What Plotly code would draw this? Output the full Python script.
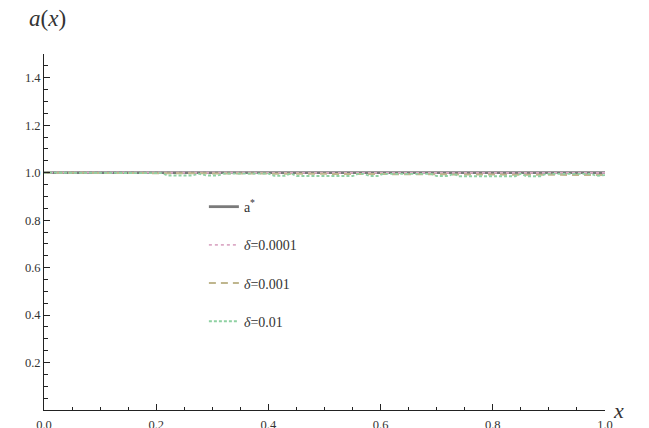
import plotly.graph_objects as go

# ---- data ----
x_star = [0.0, 0.2, 0.4, 0.6, 0.8, 1.0]
a_star = [1.0, 1.0, 1.0, 1.0, 1.0, 1.0]

x_d4 = [0.0, 0.2, 0.4, 0.6, 0.8, 1.0]
a_d4 = [1.0, 0.9998, 0.9995, 0.9993, 0.999, 0.9988]

x_d3 = [0.0, 0.2, 0.4, 0.6, 0.8, 1.0]
a_d3 = [1.0, 0.998, 0.996, 0.994, 0.992, 0.99]

x_d2 = [0.0, 0.21, 0.22, 0.265, 0.275, 0.29, 0.31, 0.32, 0.40, 0.41, 0.43, 0.44,
        0.45, 0.55, 0.56, 0.57, 0.58, 0.595, 0.605, 0.69, 0.70, 0.72, 0.73, 0.74,
        0.84, 0.85, 0.86, 0.885, 0.895, 0.975, 0.985, 1.0]
a_d2 = [1.0, 0.998, 0.988, 0.988, 0.996, 0.988, 0.988, 0.996, 0.996, 0.987, 0.987, 0.996,
        0.986, 0.986, 0.995, 0.995, 0.986, 0.986, 0.995, 0.995, 0.986, 0.986, 0.995, 0.985,
        0.985, 0.995, 0.985, 0.985, 0.995, 0.995, 0.986, 0.99]

names = ["a<sup>*</sup>", "<i>δ</i>=0.0001", "<i>δ</i>=0.001", "<i>δ</i>=0.01"]
x_ticks = [0.0, 0.2, 0.4, 0.6, 0.8, 1.0]
y_ticks = [0.2, 0.4, 0.6, 0.8, 1.0, 1.2, 1.4]

FONT = "Liberation Serif"

fig = go.Figure()
fig.add_trace(go.Scatter(x=x_star, y=a_star, mode="lines", name=names[0],
                         line=dict(color="#7a7a7a", width=2.8), legendgroup="g0"))
fig.add_trace(go.Scatter(x=x_d4, y=a_d4, mode="lines", name=names[1],
                         line=dict(color="#dcaac6", width=1.8, dash="dot"), legendgroup="g1"))
fig.add_trace(go.Scatter(x=x_d3, y=a_d3, mode="lines", name=names[2],
                         line=dict(color="#bfb68e", width=2, dash="7px,5px"), legendgroup="g2"))
fig.add_trace(go.Scatter(x=x_d2, y=a_d2, mode="lines", name=names[3],
                         line=dict(color="#8fd1a2", width=1.8, dash="3px,2px"), legendgroup="g3"))

fig.update_layout(
    width=649, height=428,
    margin=dict(l=36, r=52, t=46, b=26),
    paper_bgcolor="white", plot_bgcolor="white",
    font=dict(family=FONT, color="#333333", size=12),
    showlegend=True,
    legend=dict(x=0.285, y=0.615, xanchor="left", yanchor="top",
                traceorder="grouped", tracegroupgap=17,
                font=dict(family=FONT, size=14, color="#333333"),
                bgcolor="rgba(0,0,0,0)"),
    xaxis=dict(range=[0, 1.0], tickvals=x_ticks, ticktext=[f"{v:.1f}" for v in x_ticks],
               ticks="inside", ticklen=6, tickcolor="#222", tickwidth=1,
               showline=True, linecolor="#222", linewidth=1, showgrid=False, zeroline=False,
               minor=dict(dtick=0.05, tick0=0, ticks="inside", ticklen=3.5, tickcolor="#222"),
               tickfont=dict(family=FONT, size=12.5), ticklabelstandoff=3, automargin=False),
    yaxis=dict(range=[0, 1.5], tickvals=y_ticks, ticktext=[f"{v:.1f}" for v in y_ticks],
               ticks="inside", ticklen=6, tickcolor="#222", tickwidth=1,
               showline=True, linecolor="#222", linewidth=1, showgrid=False, zeroline=False,
               minor=dict(dtick=0.05, tick0=0, ticks="inside", ticklen=3.5, tickcolor="#222"),
               tickfont=dict(family=FONT, size=12.5), automargin=False),
    annotations=[
        dict(text="<i>a</i>(<i>x</i>)", xref="paper", yref="paper", x=-0.03, y=1.0,
             yshift=36, xanchor="left", yanchor="middle", showarrow=False,
             font=dict(family=FONT, size=23, color="#333333")),
        dict(text="<i>x</i>", xref="paper", yref="paper", x=1.0, y=0.0, xshift=6,
             xanchor="left", yanchor="middle", showarrow=False,
             font=dict(family=FONT, size=22, color="#333333")),
    ],
)

fig.write_html("out.html")
